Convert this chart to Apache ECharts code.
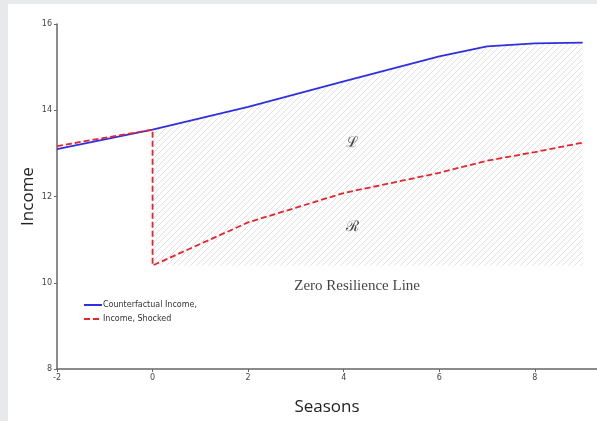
<!DOCTYPE html>
<html>
<head>
<meta charset="utf-8">
<script src="https://cdn.jsdelivr.net/npm/echarts@6/dist/echarts.min.js"></script>
<style>
  html, body { margin: 0; padding: 0; background: #e8e9eb; }
  #wrap { position: absolute; left: 8px; top: 4px; right: 0; bottom: 0; background: #fff; }
  #chart { position: absolute; left: -8px; top: -4px; width: 597px; height: 421px; }
</style>
</head>
<body>
<div id="wrap"><div id="chart"></div></div>
<script>
// data
const seasonsCf = [-2, 0, 2, 4, 6, 7, 8, 9];
const incomeCf = [13.1, 13.55, 14.08, 14.67, 15.25, 15.48, 15.55, 15.57];

const seasonsShock = [-2, 0, 0, 2, 4, 6, 7, 8, 9];
const incomeShock = [13.17, 13.55, 10.4, 11.4, 12.08, 12.55, 12.83, 13.03, 13.25];

const zeroLine = 10.4;
const yTicks = [8, 10, 12, 14, 16];
const xTicks = [-2, 0, 2, 4, 6, 8];

// text annotations [x, y, text]
const notes = [
  [4.18, 13.25, "ℒ"],
  [4.18, 11.28, "ℛ"],
  [4.28, 9.93, "Zero Resilience Line"]
];

function pair(xs, ys) {
  return xs.map((x, i) => [x, ys[i]]);
}

// hatch pattern "////"
function hatch() {
  const c = document.createElement("canvas");
  const p = 6;
  c.width = p;
  c.height = p;
  const ctx = c.getContext("2d");
  ctx.strokeStyle = "#e0e0e0";
  ctx.lineWidth = 1;
  ctx.beginPath();
  ctx.moveTo(0, p); ctx.lineTo(p, 0);
  ctx.moveTo(-p / 2, p / 2); ctx.lineTo(p / 2, -p / 2);
  ctx.moveTo(p / 2, p * 1.5); ctx.lineTo(p * 1.5, p / 2);
  ctx.stroke();
  return c;
}

const chart = echarts.init(document.getElementById("chart"));

const option = {
  animation: false,
  backgroundColor: "transparent",
  grid: { left: 57, right: 0, top: 24, bottom: 46, containLabel: false },
  legend: {
    orient: "vertical",
    left: 78,
    top: 296,
    itemGap: 6,
    itemWidth: 18,
    itemHeight: 8,
    itemStyle: { opacity: 0 },
    data: ["Counterfactual Income,", "Income, Shocked"],
    textStyle: { fontFamily: "DejaVu Sans", fontSize: 8, color: "#333", padding: [0, 0, 0, -4] }
  },
  xAxis: {
    type: "value",
    min: -2,
    max: 9.3,
    interval: 2,
    name: "Seasons",
    nameLocation: "middle",
    nameGap: 30,
    nameMoveOverlap: false,
    nameTextStyle: { fontFamily: "Open Sans", fontSize: 17, color: "#222" },
    axisLine: { onZero: false, lineStyle: { color: "#666", width: 1.5 } },
    axisTick: { show: true, length: 3, inside: false, lineStyle: { color: "#666" } },
    axisLabel: {
      fontFamily: "DejaVu Sans", fontSize: 8, color: "#444", margin: 5,
      showMaxLabel: false,
      formatter: v => (xTicks.indexOf(v) >= 0 ? String(v) : "")
    },
    splitLine: { show: false }
  },
  yAxis: {
    type: "value",
    min: 8,
    max: 16,
    interval: 2,
    name: "Income",
    nameLocation: "middle",
    nameGap: 20,
    nameMoveOverlap: false,
    nameTextStyle: { fontFamily: "Open Sans", fontSize: 17, color: "#222" },
    axisLine: { show: true, onZero: false, lineStyle: { color: "#666", width: 1.5 } },
    axisTick: { show: true, length: 3, lineStyle: { color: "#666" } },
    axisLabel: {
      fontFamily: "DejaVu Sans", fontSize: 8, color: "#444", margin: 5,
      formatter: v => (yTicks.indexOf(v) >= 0 ? String(v) : "")
    },
    splitLine: { show: false }
  },
  series: [
    {
      name: "hatch",
      type: "line",
      data: pair(seasonsCf.slice(1), incomeCf.slice(1)),
      symbol: "none",
      lineStyle: { width: 0 },
      areaStyle: { origin: zeroLine, color: { image: hatch(), repeat: "repeat" }, opacity: 1 },
      silent: true,
      z: 1
    },
    {
      name: "Counterfactual Income,",
      type: "line",
      data: pair(seasonsCf, incomeCf),
      symbol: "none",
      color: "#2f2fe0",
      lineStyle: { color: "#2f2fe0", width: 1.8 },
      z: 3
    },
    {
      name: "Income, Shocked",
      type: "line",
      data: pair(seasonsShock, incomeShock),
      symbol: "none",
      color: "#e8232b",
      lineStyle: { color: "#e8232b", width: 1.8, type: [6, 3] },
      z: 4
    },
    {
      name: "notes",
      type: "scatter",
      data: notes.map(n => ({ value: [n[0], n[1]], name: n[2] })),
      symbolSize: 0,
      silent: true,
      label: {
        show: true,
        position: "inside",
        formatter: p => p.name,
        fontFamily: "Liberation Serif",
        fontSize: 15,
        color: "#111"
      },
      z: 5
    }
  ]
};

chart.setOption(option);
</script>
</body>
</html>
